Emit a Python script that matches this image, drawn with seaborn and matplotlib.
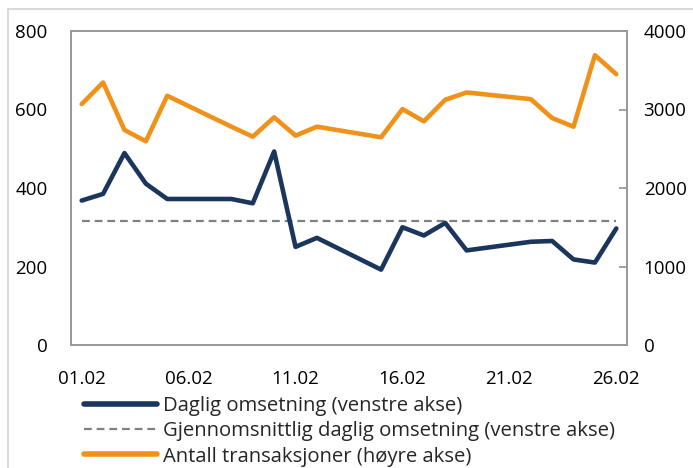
import matplotlib
matplotlib.use("Agg")
import matplotlib.pyplot as plt
from matplotlib.patches import Rectangle
from matplotlib.lines import Line2D
import seaborn as sns
import pandas as pd

dates = ["2021-02-01", "2021-02-02", "2021-02-03", "2021-02-04", "2021-02-05",
         "2021-02-08", "2021-02-09", "2021-02-10", "2021-02-11", "2021-02-12",
         "2021-02-15", "2021-02-16", "2021-02-17", "2021-02-18", "2021-02-19",
         "2021-02-22", "2021-02-23", "2021-02-24", "2021-02-25", "2021-02-26"]
daglig_omsetning = [368, 385, 489, 411, 372, 372, 361, 493, 250, 273,
                    192, 300, 279, 311, 241, 263, 265, 218, 210, 297]
gjennomsnitt = 317
antall_transaksjoner = [3069, 3344, 2739, 2595, 3175, 2781, 2654, 2900, 2667, 2781,
                        2646, 3005, 2849, 3124, 3217, 3132, 2891, 2781, 3691, 3450]
tick_dates = ["2021-02-01", "2021-02-06", "2021-02-11", "2021-02-16", "2021-02-21", "2021-02-26"]
tick_labels = ["01.02", "06.02", "11.02", "16.02", "21.02", "26.02"]
labels = ["Daglig omsetning (venstre akse)",
          "Gjennomsnittlig daglig omsetning (venstre akse)",
          "Antall transaksjoner (høyre akse)"]

sns.set_theme(style="white")
plt.rcParams['font.family'] = ['Open Sans', 'DejaVu Sans']

BLUE = "#1B365D"
ORANGE = "#F0921A"
GREY = "#808080"
SPINE = "#9a9a9a"

df = pd.DataFrame({"dato": pd.to_datetime(dates),
                   "omsetning": daglig_omsetning,
                   "snitt": [gjennomsnitt] * len(dates),
                   "antall": antall_transaksjoner})

fig = plt.figure(figsize=(6.93, 4.68), dpi=100)
ax = fig.add_axes([71/693, 1-345/468, (627-71)/693, (345-31)/468])
ax2 = ax.twinx()

sns.lineplot(data=df, x="dato", y="omsetning", ax=ax, color=BLUE, lw=3.3, zorder=3)
sns.lineplot(data=df, x="dato", y="snitt", ax=ax, color=GREY, lw=1.6, zorder=2)
ax.lines[-1].set_dashes([3.5, 2.2])
sns.lineplot(data=df, x="dato", y="antall", ax=ax2, color=ORANGE, lw=3.3)

ax.set_ylim(0, 800)
ax.set_yticks([0, 200, 400, 600, 800])
ax2.set_ylim(0, 4000)
ax2.set_yticks([0, 1000, 2000, 3000, 4000])

x0 = pd.Timestamp("2021-02-01") - pd.Timedelta(hours=12)
x1 = pd.Timestamp("2021-02-26") + pd.Timedelta(hours=12)
ax.set_xlim(x0, x1)
ax.set_xticks(pd.to_datetime(tick_dates))
ax.set_xticklabels(tick_labels)
minor = [pd.Timestamp(d) - pd.Timedelta(hours=12) for d in tick_dates[1:]]
ax.set_xticks(minor, minor=True)

for a in (ax, ax2):
    a.set_xlabel("")
    a.set_ylabel("")
    for s in a.spines.values():
        s.set_color(SPINE)
        s.set_linewidth(1.3)
    a.grid(False)

ax.tick_params(axis="x", which="major", length=0, pad=18, labelsize=13.5, colors="black")
ax.tick_params(axis="x", which="minor", direction="in", length=6, width=1.3, color=SPINE)
ax.tick_params(axis="y", length=0, pad=17, labelsize=13.5, colors="black")
ax2.tick_params(axis="y", direction="in", length=6, width=1.3, color=SPINE,
                pad=12, labelsize=13.5, labelcolor="black")

handles = [Line2D([], [], color=BLUE, lw=4, solid_capstyle="round"),
           Line2D([], [], color=GREY, lw=1.6, dashes=[3.5, 2.2]),
           Line2D([], [], color=ORANGE, lw=4, solid_capstyle="round")]
fig.legend(handles, labels, loc="upper left", bbox_to_anchor=(84/693, 1-396/468),
           frameon=False, fontsize=14.6, handlelength=3.6, handletextpad=0.3,
           borderpad=0, borderaxespad=0, labelspacing=0.26)

fig.add_artist(Rectangle((8/693, -0.05), 1.2, 1.05 - 9/468, transform=fig.transFigure,
                         fill=False, edgecolor="#d9d9d9", lw=1.5))

fig.savefig("out.png", dpi=100)
